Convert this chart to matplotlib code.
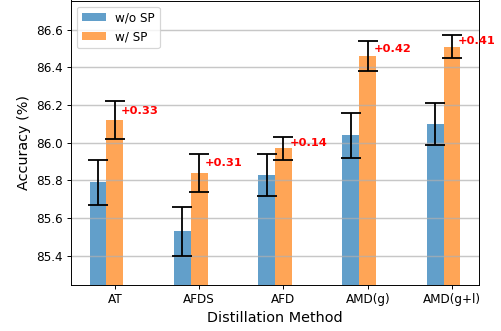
import matplotlib
matplotlib.use("Agg")
import matplotlib.pyplot as plt
import numpy as np

methods = ["AT", "AFDS", "AFD", "AMD(g)", "AMD(g+l)"]
accWithout = [85.79, 85.53, 85.83, 86.04, 86.10]
accWith = [86.12, 85.84, 85.97, 86.46, 86.51]
errWithout = [0.12, 0.13, 0.11, 0.12, 0.11]
errWith = [0.10, 0.10, 0.06, 0.08, 0.06]
gains = ["+0.33", "+0.31", "+0.14", "+0.42", "+0.41"]

dpi = 86.5
fig = plt.figure(figsize=(501 / dpi, 331 / dpi), dpi=dpi)
ax = fig.add_axes([71 / 501, 46 / 331, 408 / 501, 1 - 46.5 / 331])

x = np.arange(len(methods))
width = 0.2

ax.bar(x - width, accWithout, width, yerr=errWithout, capsize=8,
       color="tab:blue", alpha=0.7, label="w/o SP",
       error_kw=dict(elinewidth=1.5, capthick=1.5, ecolor="black"))
ax.bar(x, accWith, width, yerr=errWith, capsize=8,
       color="tab:orange", alpha=0.7, label="w/ SP",
       error_kw=dict(elinewidth=1.5, capthick=1.5, ecolor="black"))

# improvement labels next to the SP bars
for i in range(len(methods)):
    ax.text(x[i] + 0.07, accWith[i] + errWith[i] / 2, gains[i],
            color="red", fontsize=9.5, fontweight="bold",
            ha="left", va="center")

ax.set_xticks(x)
ax.set_xticklabels(methods)
ax.set_ylim(85.245, 86.755)
ax.set_yticks([85.4, 85.6, 85.8, 86.0, 86.2, 86.4, 86.6])
ax.set_xlabel("Distillation Method", fontsize=12)
ax.set_ylabel("Accuracy (%)", fontsize=12)
ax.grid(True, axis="y", alpha=0.7, linewidth=1.2)
ax.legend(loc="upper left")

fig.savefig("out.png", dpi=dpi)
